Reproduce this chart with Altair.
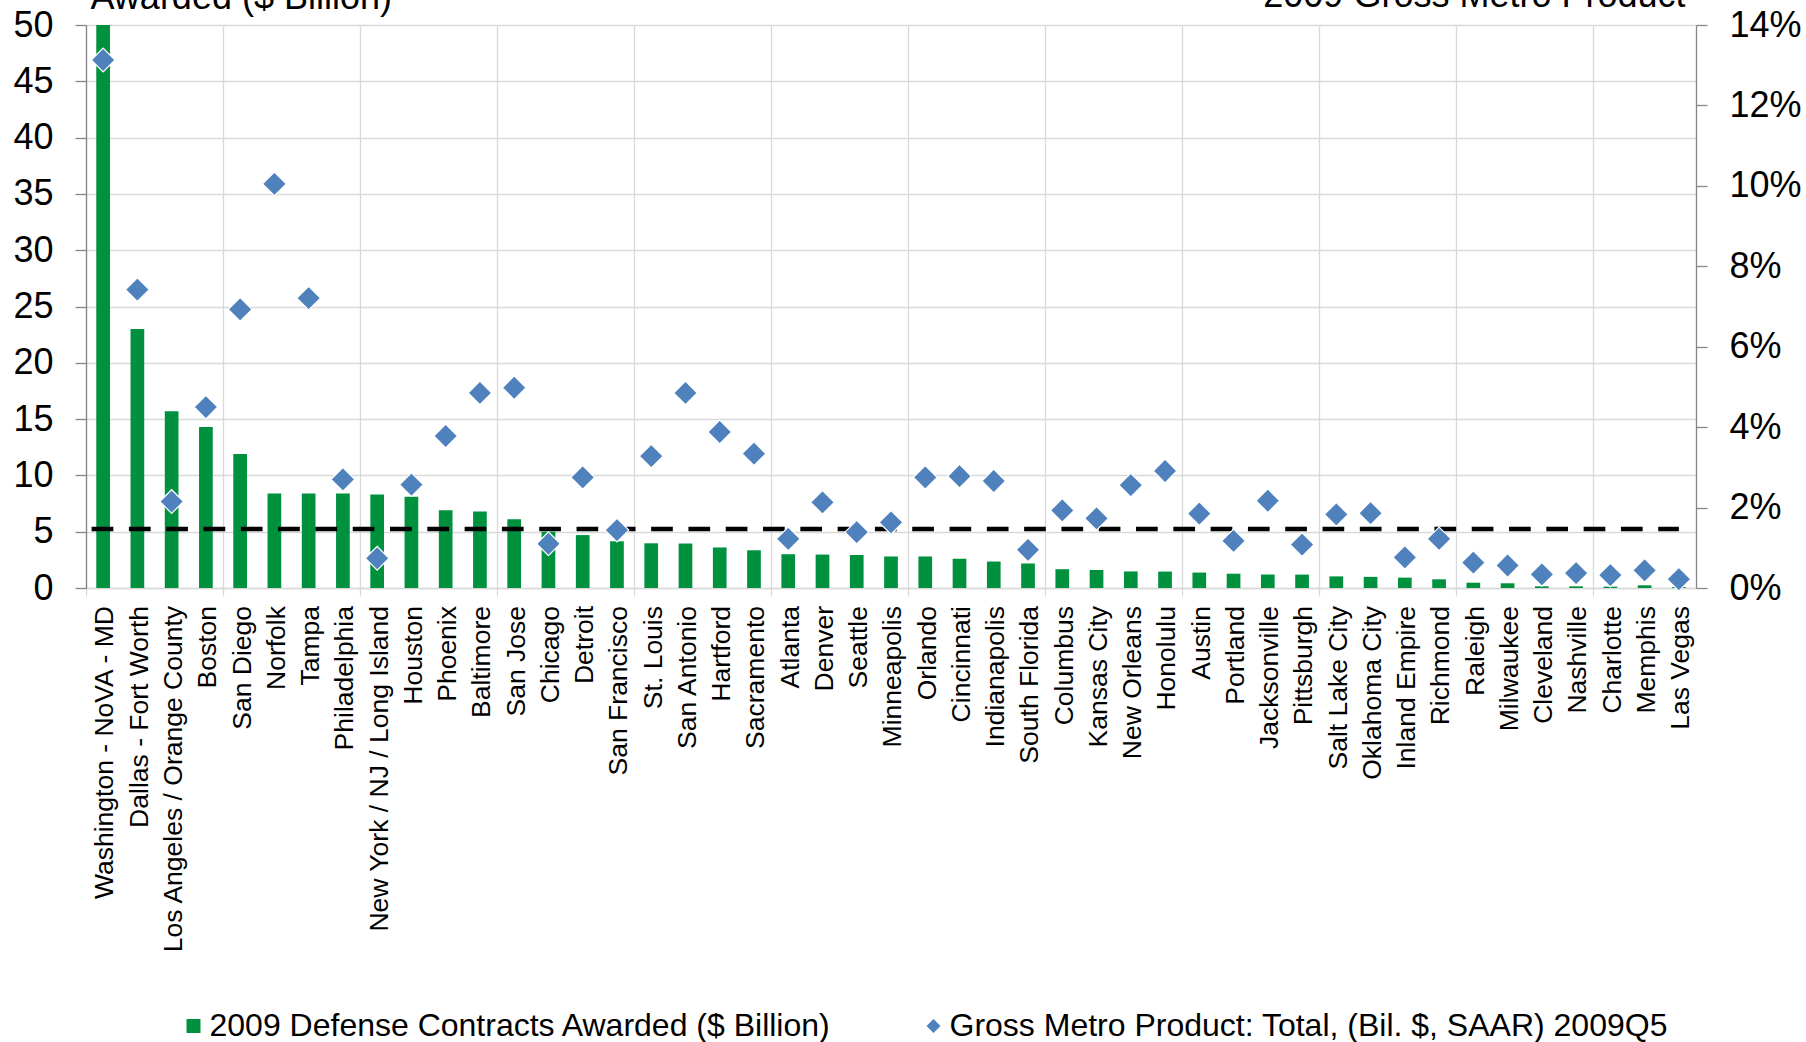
import json

import altair as alt
import pandas as pd

# Metro areas, ordered by defense contract dollars
cities = [
    "Washington - NoVA - MD", "Dallas - Fort Worth", "Los Angeles / Orange County",
    "Boston", "San Diego", "Norfolk", "Tampa", "Philadelphia",
    "New York / NJ / Long Island", "Houston", "Phoenix", "Baltimore", "San Jose",
    "Chicago", "Detroit", "San Francisco", "St. Louis", "San Antonio", "Hartford",
    "Sacramento", "Atlanta", "Denver", "Seattle", "Minneapolis", "Orlando",
    "Cincinnati", "Indianapolis", "South Florida", "Columbus", "Kansas City",
    "New Orleans", "Honolulu", "Austin", "Portland", "Jacksonville", "Pittsburgh",
    "Salt Lake City", "Oklahoma City", "Inland Empire", "Richmond", "Raleigh",
    "Milwaukee", "Cleveland", "Nashville", "Charlotte", "Memphis", "Las Vegas",
]

# 2009 defense contracts awarded, $ billion (left axis)
defense_bn = [
    50.0, 23.0, 15.7, 14.3, 11.9, 8.4, 8.4, 8.4,
    8.3, 8.1, 6.9, 6.8, 6.1,
    5.0, 4.7, 4.15, 3.97, 3.95, 3.6,
    3.35, 3.0, 2.97, 2.93, 2.8, 2.8,
    2.6, 2.35, 2.18, 1.67, 1.6,
    1.47, 1.46, 1.37, 1.27, 1.2, 1.19,
    1.03, 0.99, 0.92, 0.77, 0.47,
    0.42, 0.15, 0.15, 0.12, 0.24, 0.08,
]

# Contracts as a share of 2009 gross metro product, % (right axis)
gmp_share_pct = [
    13.13, 7.42, 2.15, 4.5, 6.93, 10.05, 7.21, 2.70,
    0.74, 2.57, 3.78, 4.85, 4.98,
    1.10, 2.75, 1.44, 3.28, 4.85, 3.88,
    3.34, 1.22, 2.13, 1.39, 1.63, 2.75,
    2.78, 2.66, 0.95, 1.93, 1.73,
    2.56, 2.91, 1.85, 1.17, 2.17, 1.08,
    1.83, 1.86, 0.76, 1.22, 0.63,
    0.56, 0.34, 0.37, 0.32, 0.44, 0.22,
]

# Average contracts across the metros, $ billion
avg_defense_bn = 5.24

bar_series = "2009 Defense Contracts Awarded ($ Billion)"
gmp_series = "Gross Metro Product: Total, (Bil. $, SAAR) 2009Q5"

left_ticks = [0, 5, 10, 15, 20, 25, 30, 35, 40, 45, 50]
right_ticks = [0, 2, 4, 6, 8, 10, 12, 14]

GREEN = "#00913F"
BLUE = "#4F81BD"
GRID = "#D9D9D9"
AXIS = "#868686"
FONT = "Liberation Sans"

W, H = 1610, 563
PAD_INNER = 0.6
step = W / len(cities)

bar_df = pd.DataFrame({"city": cities, "value": defense_bn, "series": bar_series})
pt_df = pd.DataFrame({"city": cities, "value": gmp_share_pct, "series": gmp_series})
avg_df = pd.DataFrame({"start": [cities[0]], "end": [cities[-1]], "avg": [avg_defense_bn]})

x_scale = alt.Scale(domain=cities, paddingInner=PAD_INNER, paddingOuter=PAD_INNER / 2)
y_left_scale = alt.Scale(domain=[0, 50])
y_right_scale = alt.Scale(domain=[0, 14])
color_scale = alt.Scale(domain=[bar_series, gmp_series], range=[GREEN, BLUE])
shape_scale = alt.Scale(domain=[bar_series, gmp_series], range=["square", "diamond"])

# vertical grid lines / ticks only on every fourth category boundary
every_fourth = f"indexof({json.dumps(cities)}, datum.value) % 4 == 0"

x_axis = alt.Axis(
    title=None,
    bandPosition=0,
    # shift from the bar's left edge back to the category boundary
    tickOffset=-PAD_INNER / 2 * step,
    labelOffset=step / 2 - 5,
    labelAngle=-90,
    labelFont=FONT,
    labelFontSize=26.5,
    labelColor="black",
    labelPadding=9.5,
    labelLimit=500,
    labelOverlap=False,
    ticks=True,
    tickSize=8,
    tickColor=GRID,
    tickWidth=1.3,
    tickOpacity={"condition": {"test": every_fourth, "value": 1}, "value": 0},
    grid=True,
    gridColor=GRID,
    gridWidth=1.3,
    gridOpacity={"condition": {"test": every_fourth, "value": 1}, "value": 0},
    domainColor=GRID,
    domainWidth=1.3,
)

axis_common = dict(
    domainColor=AXIS,
    domainWidth=1.3,
    tickColor=AXIS,
    tickWidth=1.3,
    tickSize=11,
    labelFont=FONT,
    labelFontSize=36,
    labelColor="black",
    labelPadding=22,
    titleFont=FONT,
    titleFontSize=36,
    titleFontWeight="normal",
    titleColor="black",
    titleAngle=0,
    titleBaseline="alphabetic",
)

y_left = alt.Axis(
    title="Awarded ($ Billion)",
    orient="left",
    values=left_ticks,
    grid=True,
    gridColor=GRID,
    gridWidth=1.3,
    titleAlign="left",
    titleX=4,
    titleY=-16.5,
    **axis_common,
)

y_right = alt.Axis(
    title="2009 Gross Metro Product",
    orient="right",
    values=right_ticks,
    labelExpr="datum.value + '%'",
    grid=False,
    titleAlign="right",
    titleX=-11,
    titleY=-19,
    **axis_common,
)

legend = alt.Legend(
    title=None,
    orient="none",
    legendX=91.5,
    legendY=985,
    direction="horizontal",
    labelFont=FONT,
    labelFontSize=32,
    labelColor="black",
    labelLimit=1000,
    labelOffset=0,
    symbolSize=196,
    symbolStrokeWidth=0,
    columnPadding=86,
    padding=0,
)

x_enc = alt.X("city:N", scale=x_scale, axis=x_axis, sort=None)

bars = alt.Chart(bar_df).mark_bar().encode(
    x=x_enc,
    y=alt.Y("value:Q", scale=y_left_scale, axis=y_left),
    color=alt.Color("series:N", scale=color_scale, legend=legend),
)

avg_line = alt.Chart(avg_df).mark_rule(
    color="black", strokeWidth=4.7, strokeDash=[21.7, 15.6], xOffset=-11.5
).encode(
    x=alt.X("start:N", scale=x_scale, axis=x_axis),
    x2="end:N",
    y=alt.Y("avg:Q", scale=y_left_scale, axis=y_left),
)

points = alt.Chart(pt_df).mark_point(
    filled=True, size=560, stroke="white", strokeWidth=1.2, opacity=1
).encode(
    x=x_enc,
    y=alt.Y("value:Q", scale=y_right_scale, axis=y_right),
    color=alt.Color("series:N", scale=color_scale, legend=legend),
    shape=alt.Shape("series:N", scale=shape_scale, legend=legend),
)

chart = (
    alt.layer(alt.layer(bars, avg_line), points)
    .resolve_scale(y="independent")
    .properties(
        width=W,
        height=H,
        padding={"left": 86, "top": 25, "right": 110, "bottom": 454},
        autosize=alt.AutoSizeParams(type="none"),
        background="white",
    )
    .configure_view(stroke=None)
)

chart.save("out.html", embed_options={"renderer": "svg", "actions": False})
